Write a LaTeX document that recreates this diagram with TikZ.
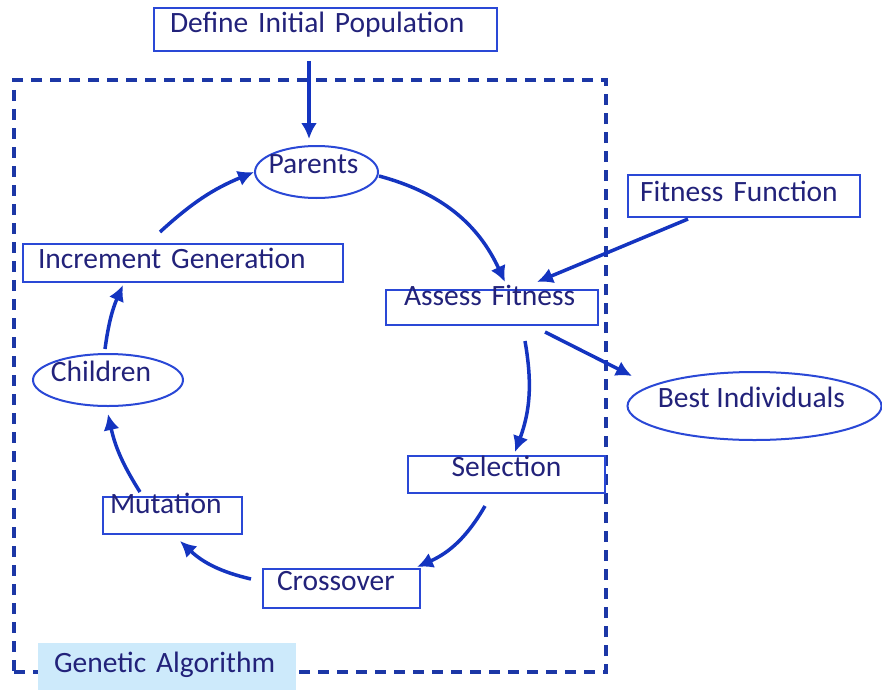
\documentclass[tikz,border=0pt]{standalone}
\usepackage{fontspec}
\setmainfont{Carlito}
\usetikzlibrary{arrows.meta,shapes.geometric}
\definecolor{gaframe}{HTML}{1C37A6}
\definecolor{gabox}{HTML}{2A48D6}
\definecolor{gaarrow}{HTML}{1434C0}
\definecolor{gatext}{HTML}{22227A}
\definecolor{galabel}{HTML}{CDEAFB}
\newcommand{\gafont}{\fontsize{29.5pt}{35pt}\selectfont}
\tikzset{
  blk/.style={draw=gabox, line width=2pt, rectangle, inner ysep=0pt,
    text height=10pt, align=left, font=\gafont, text=gatext},
  oval/.style={draw=gabox, line width=2pt, ellipse, inner sep=0pt,
    text height=10pt, font=\gafont, text=gatext},
  arr/.style={draw=gaarrow, line width=3.5pt, -{Latex[length=16pt,width=16pt]}}
}
\begin{document}
\begin{tikzpicture}[x=1pt,y=-1pt]
  \useasboundingbox (0,0) rectangle (882,690);

  \node (frame) [draw=gaframe,line width=4pt,dash pattern=on 11pt off 8pt,minimum width=592pt,minimum height=592pt] at (310,376) {};
  \node (label) [fill=galabel,inner ysep=0pt,text height=12pt,text depth=1pt,minimum width=258pt,minimum height=47pt,inner xsep=16pt,text width=226pt,align=left,font=\gafont,text=gatext] at (167,666.5) {Genetic Algorithm};

  \node (define) [blk,minimum width=343pt,minimum height=43pt,inner xsep=16pt,text width=311pt,text depth=3pt] at (325.5,29.5) {Define Initial Population};
  \node (parents) [oval,minimum width=123pt,minimum height=52pt,text depth=8pt] at (316.5,172) {\makebox[0pt]{\hspace*{-6pt}Parents}};
  \node (fitfun) [blk,minimum width=232pt,minimum height=42pt,inner xsep=12pt,text width=208pt,text depth=0pt] at (744,196) {Fitness Function};
  \node (assess) [blk,minimum width=212pt,minimum height=35pt,inner xsep=18pt,text width=176pt,text depth=14pt] at (492,307.5) {Assess Fitness};
  \node (best) [oval,minimum width=254pt,minimum height=68pt,text depth=8pt] at (754.5,406) {\makebox[0pt]{\hspace*{-6pt}Best Individuals}};
  \node (selection) [blk,minimum width=197pt,minimum height=37pt,inner xsep=10pt,text width=177pt,text depth=7pt,align=center] at (506.5,474.5) {Selection};
  \node (crossover) [blk,minimum width=157pt,minimum height=39pt,inner xsep=14pt,text width=129pt,text depth=6pt] at (341.5,588.5) {Crossover};
  \node (mutation) [blk,minimum width=139pt,minimum height=37pt,inner xsep=7pt,text width=125pt,text depth=15pt] at (172.5,515.5) {Mutation};
  \node (children) [oval,minimum width=150pt,minimum height=52pt,text depth=8pt] at (108,380) {\makebox[0pt]{\hspace*{-14pt}Children}};
  \node (incgen) [blk,minimum width=320pt,minimum height=38pt,inner xsep=15pt,text width=290pt,text depth=0pt] at (183,263) {Increment Generation};

  \draw[arr] ([shift={(-16.5,9)}]define.south) -- ([shift={(-7.5,-6)}]parents.north);
  \draw[arr] ([shift={(0,4)}]parents.east) to[bend left=25] ([shift={(13,-7)}]assess.north);
  \draw[arr] ([shift={(-56,1)}]fitfun.south) -- ([shift={(45,-7)}]assess.north);
  \draw[arr] ([shift={(33,15)}]assess.south) to[bend left=15] ([shift={(8.5,-3)}]selection.north);
  \draw[arr] ([shift={(53,6)}]assess.south) -- ([shift={(5.5,-30)}]best.west);
  \draw[arr] ([shift={(-21.5,12)}]selection.south) to[bend left=18] ([shift={(-4,-1)}]crossover.north east);
  \draw[arr] ([shift={(-11,-9.5)}]crossover.west) to[bend left=15] ([shift={(7.5,6)}]mutation.south);
  \draw[arr] ([shift={(-32.5,-4)}]mutation.north) to[bend left=10] ([shift={(0,7)}]children.south);
  \draw[arr] ([shift={(-3,-4)}]children.north) to[bend left=8] ([shift={(-60,2)}]incgen.south);
  \draw[arr] ([shift={(-23,-11)}]incgen.north) to[bend left=10] (parents.west);

\end{tikzpicture}
\end{document}
